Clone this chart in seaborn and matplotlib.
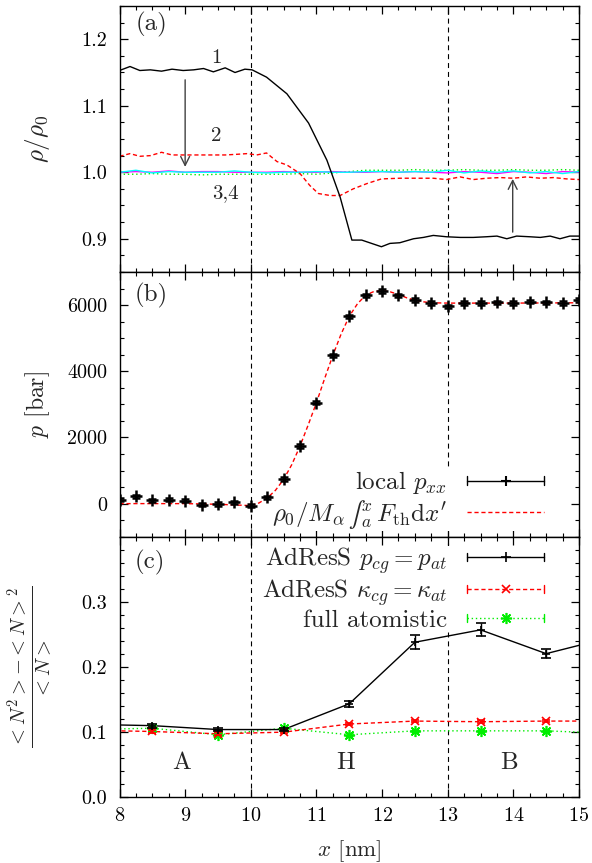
import numpy as np
import pandas as pd
import matplotlib
matplotlib.use("Agg")
import matplotlib.pyplot as plt
import seaborn as sns
from matplotlib.lines import Line2D
from matplotlib.legend_handler import HandlerBase
from matplotlib.ticker import MultipleLocator, FixedLocator

# ---------------- data ----------------
# panel (a): density profiles rho/rho0
x_c1 = [8.00, 8.16, 8.31, 8.47, 8.64, 8.80, 8.97, 9.13, 9.28, 9.43, 9.61, 9.76, 9.91, 10.02,
        10.24, 10.55, 10.88, 11.16, 11.36, 11.54, 11.69, 11.84, 11.99, 12.12, 12.27, 12.48,
        12.63, 12.78, 12.98, 13.19, 13.39, 13.59, 13.75, 13.90, 14.05, 14.25, 14.41, 14.56,
        14.71, 14.86, 15.00]
y_c1 = [1.153, 1.159, 1.153, 1.154, 1.152, 1.155, 1.153, 1.154, 1.156, 1.151, 1.157, 1.150,
        1.155, 1.154, 1.143, 1.118, 1.074, 1.018, 0.963, 0.898, 0.898, 0.893, 0.888, 0.893,
        0.894, 0.900, 0.902, 0.905, 0.903, 0.902, 0.902, 0.903, 0.904, 0.900, 0.904, 0.903,
        0.902, 0.904, 0.900, 0.904, 0.904]
x_c2 = [8.00, 8.16, 8.31, 8.47, 8.64, 8.80, 8.97, 9.13, 9.28, 9.43, 9.61, 9.79, 9.94, 10.09,
        10.24, 10.40, 10.55, 10.75, 10.90, 11.03, 11.21, 11.36, 11.56, 11.77, 11.99, 12.27,
        12.53, 12.78, 12.98, 13.19, 13.39, 13.59, 13.80, 14.00, 14.20, 14.41, 14.61, 14.81,
        15.00]
y_c2 = [1.024, 1.028, 1.024, 1.025, 1.030, 1.026, 1.026, 1.026, 1.026, 1.026, 1.026, 1.027,
        1.028, 1.026, 1.029, 1.016, 1.011, 0.998, 0.980, 0.968, 0.965, 0.965, 0.975, 0.983,
        0.990, 0.991, 0.991, 0.991, 0.989, 0.993, 0.989, 0.991, 0.992, 0.991, 0.993, 0.991,
        0.992, 0.990, 0.989]
x_c34 = [8.00, 8.25, 8.50, 8.75, 9.00, 9.25, 9.50, 9.75, 10.00, 10.25, 10.50, 10.75, 11.00,
         11.25, 11.50, 11.75, 12.00, 12.25, 12.50, 12.75, 13.00, 13.25, 13.50, 13.75, 14.00,
         14.25, 14.50, 14.75, 15.00]
y_full = [0.997, 0.997, 0.998, 0.997, 0.997, 0.996, 0.997, 0.997, 0.997, 0.997, 0.997, 0.998,
          0.997, 0.999, 1.001, 1.003, 1.003, 1.003, 1.004, 1.003, 1.003, 1.004, 1.003, 1.003,
          1.004, 1.003, 1.003, 1.004, 1.003]
y_c3 = [1.000, 1.001, 1.000, 1.002, 1.000, 1.001, 1.001, 1.000, 1.000, 1.000, 1.001, 1.000,
        1.000, 1.001, 1.000, 1.000, 1.001, 1.000, 1.001, 1.000, 0.999, 1.001, 1.000, 0.998,
        1.001, 1.000, 0.998, 1.001, 1.000]
y_c4 = [1.000, 1.003, 0.999, 1.001, 1.000, 1.000, 1.000, 1.002, 1.000, 0.999, 1.000, 1.000,
        1.001, 1.000, 1.000, 1.001, 1.001, 1.000, 1.001, 1.000, 1.003, 0.999, 1.002, 1.000,
        1.002, 0.999, 1.001, 0.998, 1.001]

# panel (b): pressure
x_p = [8.00, 8.25, 8.50, 8.75, 9.00, 9.25, 9.50, 9.75, 10.00, 10.25, 10.50, 10.75, 11.00,
       11.25, 11.50, 11.75, 12.00, 12.25, 12.50, 12.75, 13.00, 13.25, 13.50, 13.75, 14.00,
       14.25, 14.50, 14.75, 15.00]
p_local = [120, 220, 100, 120, 90, -30, -10, 40, -60, 190, 740, 1740, 3050, 4480, 5660,
           6300, 6430, 6300, 6150, 6060, 5960, 6060, 6060, 6080, 6060, 6100, 6080, 6060, 6150]
p_err = [50] * 29
x_int = [8.0, 8.5, 9.0, 9.5, 9.75, 10.0, 10.125, 10.25, 10.375, 10.5, 10.625, 10.75, 10.875,
         11.0, 11.125, 11.25, 11.375, 11.5, 11.625, 11.75, 11.875, 12.0, 12.125, 12.25,
         12.375, 12.5, 12.625, 12.75, 13.0, 14.0, 15.0]
p_int = [0, 0, 0, -20, -40, -60, 20, 170, 400, 730, 1180, 1740, 2380, 3050, 3780, 4480,
         5120, 5660, 6040, 6300, 6410, 6440, 6400, 6320, 6220, 6150, 6100, 6070, 6060, 6060,
         6070]

# panel (c): particle number fluctuations
x_n = [7.5, 8.5, 9.5, 10.5, 11.5, 12.5, 13.5, 14.5, 15.5]
n_press = [0.112, 0.110, 0.104, 0.104, 0.1435, 0.238, 0.257, 0.2205, 0.246]
n_press_err = [0.003, 0.003, 0.003, 0.002, 0.005, 0.011, 0.010, 0.007, 0.008]
n_kappa = [0.103, 0.101, 0.0975, 0.100, 0.1125, 0.117, 0.116, 0.117, 0.117]
n_kappa_err = [0.002] * 9
n_full = [0.104, 0.106, 0.096, 0.106, 0.096, 0.102, 0.102, 0.102, 0.098]
n_full_err = [0.002] * 9

boundaries = [10, 13]
region_labels = ["A", "H", "B"]
region_x = [8.95, 11.45, 13.93]
region_y = 0.053

x_ticks = [8, 9, 10, 11, 12, 13, 14, 15]
rho_ticks = [0.9, 1.0, 1.1, 1.2]
p_ticks = [0, 2000, 4000, 6000]
n_ticks = [0.0, 0.1, 0.2, 0.3]

# ---------------- style ----------------
sns.set_theme(style="ticks")
plt.rcParams.update({
    "font.family": "serif",
    "font.serif": ["cmr10", "DejaVu Serif"],
    "mathtext.fontset": "cm",
    "axes.formatter.use_mathtext": True,
    "axes.unicode_minus": False,
    "axes.linewidth": 1.0,
    "axes.edgecolor": "black",
    "xtick.direction": "in",
    "ytick.direction": "in",
    "xtick.top": True,
    "ytick.right": True,
    "xtick.major.size": 5.5,
    "ytick.major.size": 5.5,
    "xtick.minor.size": 3,
    "ytick.minor.size": 3,
    "xtick.major.width": 0.9,
    "ytick.major.width": 0.9,
    "xtick.minor.width": 0.8,
    "ytick.minor.width": 0.8,
    "xtick.color": "black",
    "ytick.color": "black",
    "xtick.labelsize": 14.5,
    "ytick.labelsize": 14.5,
    "xtick.major.pad": 7,
    "ytick.major.pad": 9,
})

W, H = 592.0, 863.0
fig = plt.figure(figsize=(W / 100, H / 100), dpi=100)


def axpos(left, top, right, bottom):
    return [left / W, 1 - bottom / H, (right - left) / W, (bottom - top) / H]


axa = fig.add_axes(axpos(119.5, 6, 579, 272))
axb = fig.add_axes(axpos(119.5, 272, 579, 536.7))
axc = fig.add_axes(axpos(119.5, 536.7, 579, 797.3))

RED = "#ff0000"
GREEN = "#00ee00"
LW = 1.0
vdash = (0, (4.5, 3.5))

for ax in (axa, axb, axc):
    ax.set_xlim(8, 15)
    ax.xaxis.set_major_locator(FixedLocator(x_ticks))
    ax.xaxis.set_minor_locator(MultipleLocator(0.25))
    for b in boundaries:
        ax.axvline(b, color="black", lw=0.8, ls=vdash, zorder=1)
    ax.tick_params(which="both", top=True, right=True)
    for s in ax.spines.values():
        s.set_zorder(10)

# ---- panel (a)
da1 = pd.DataFrame({"x": x_c1, "y": y_c1})
da2 = pd.DataFrame({"x": x_c2, "y": y_c2})
da3 = pd.DataFrame({"x": x_c34, "full": y_full, "c3": y_c3, "c4": y_c4})
sns.lineplot(data=da3, x="x", y="full", ax=axa, color=GREEN, lw=LW, ls=(0, (1, 2)),
             estimator=None, sort=False, zorder=3)
sns.lineplot(data=da3, x="x", y="c3", ax=axa, color="#ff00ff", lw=LW,
             estimator=None, sort=False, zorder=3)
sns.lineplot(data=da3, x="x", y="c4", ax=axa, color="#00ffff", lw=LW,
             estimator=None, sort=False, zorder=3)
sns.lineplot(data=da2, x="x", y="y", ax=axa, color=RED, lw=LW, ls=(0, (3, 2)),
             estimator=None, sort=False, zorder=3)
sns.lineplot(data=da1, x="x", y="y", ax=axa, color="black", lw=LW,
             estimator=None, sort=False, zorder=3)
axa.set_ylim(0.85, 1.25)
axa.yaxis.set_major_locator(FixedLocator(rho_ticks))
axa.yaxis.set_minor_locator(MultipleLocator(0.025))
axa.yaxis.set_major_formatter(matplotlib.ticker.FormatStrFormatter("%.1f"))
axa.set_xlabel("")
axa.tick_params(labelbottom=False)
axa.set_ylabel(r"$\rho/\rho_0$", fontsize=18, va="center")
axa.yaxis.set_label_coords(-0.178, 0.5)
axa.text(8.49, 1.222, "(a)", fontsize=18, ha="center", va="center")
axa.text(9.48, 1.171, "1", fontsize=15, ha="center", va="center")
axa.text(9.48, 1.054, "2", fontsize=15, ha="center", va="center")
axa.text(9.62, 0.969, "3,4", fontsize=15, ha="center", va="center")
arrow_kw = dict(arrowstyle="->", color="#404040", lw=1.0, mutation_scale=16,
                shrinkA=0, shrinkB=0)
axa.annotate("", xy=(9.0, 1.008), xytext=(9.0, 1.139), arrowprops=arrow_kw)
axa.annotate("", xy=(13.99, 0.990), xytext=(13.99, 0.910), arrowprops=arrow_kw)

# ---- panel (b)
dbi = pd.DataFrame({"x": x_int, "p": p_int})
sns.lineplot(data=dbi, x="x", y="p", ax=axb, color=RED, lw=LW, ls=(0, (3, 2)),
             estimator=None, sort=False, zorder=3)
axb.errorbar(x_p, p_local, yerr=p_err, fmt="+", color="black", ms=8, mew=1.8,
             elinewidth=1.6, capsize=3, capthick=1.6, zorder=4)
axb.set_ylim(-1000, 7000)
axb.yaxis.set_major_locator(FixedLocator(p_ticks))
axb.yaxis.set_minor_locator(MultipleLocator(500))
axb.yaxis.set_major_formatter(matplotlib.ticker.FormatStrFormatter("%d"))
axb.tick_params(labelbottom=False)
axb.set_xlabel("")
axb.set_ylabel(r"$p$ [bar]", fontsize=17, va="center")
axb.yaxis.set_label_coords(-0.178, 0.5)
axb.text(8.49, 6280, "(b)", fontsize=18, ha="center", va="center")

# ---- panel (c)
dc = pd.DataFrame({"x": x_n, "press": n_press, "kappa": n_kappa, "full": n_full})
sns.lineplot(data=dc, x="x", y="full", ax=axc, color=GREEN, lw=LW, ls=(0, (1, 2)),
             estimator=None, sort=False, zorder=3)
sns.lineplot(data=dc, x="x", y="kappa", ax=axc, color=RED, lw=LW, ls=(0, (3, 2)),
             estimator=None, sort=False, zorder=3)
sns.lineplot(data=dc, x="x", y="press", ax=axc, color="black", lw=LW,
             estimator=None, sort=False, zorder=3)
axc.errorbar(x_n, n_full, yerr=n_full_err, fmt="none", ecolor=GREEN, elinewidth=1,
             capsize=3, zorder=4)
axc.plot(x_n, n_full, ls="none", marker=(8, 2, 0), ms=8, mew=1.2, color=GREEN, zorder=4)
axc.errorbar(x_n, n_kappa, yerr=n_kappa_err, fmt="x", color=RED, ms=6, mew=1.2,
             elinewidth=1, capsize=3, zorder=4)
axc.errorbar(x_n, n_press, yerr=n_press_err, fmt="+", color="black", ms=6, mew=1.2,
             elinewidth=1, capsize=3.5, zorder=5)
axc.set_ylim(0, 0.4)
axc.yaxis.set_major_locator(FixedLocator(n_ticks))
axc.yaxis.set_minor_locator(MultipleLocator(0.02))
axc.yaxis.set_major_formatter(matplotlib.ticker.FormatStrFormatter("%.1f"))
axc.set_xlabel(r"$x$ [nm]", fontsize=16.5, va="center")
axc.xaxis.set_label_coords(0.5, -0.205)
axc.set_ylabel(r"$\frac{<N^2>-<N>^2}{<N>}$", fontsize=21, va="center")
axc.yaxis.set_label_coords(-0.195, 0.5)
axc.text(8.46, 0.361, "(c)", fontsize=18, ha="center", va="center")
for lab, xx in zip(region_labels, region_x):
    axc.text(xx, region_y, lab, fontsize=18, ha="center", va="center")


# ---------------- legends (gnuplot-style samples) ----------------
class GPHandler(HandlerBase):
    def create_artists(self, legend, orig_handle, xdescent, ydescent, width, height,
                       fontsize, trans):
        y = height / 2 - ydescent
        x0, x1 = -xdescent, width - xdescent
        arts = []
        ln = Line2D([x0, x1], [y, y])
        ln.update_from(orig_handle)
        ln.set_marker("None")
        arts.append(ln)
        cap = 3.0
        for xc in (x0, x1):
            c = Line2D([xc, xc], [y - cap, y + cap], color=orig_handle.get_color(), lw=1.0)
            arts.append(c)
        m = Line2D([(x0 + x1) / 2], [y], ls="none")
        m.update_from(orig_handle)
        m.set_linestyle("None")
        arts.append(m)
        for a in arts:
            a.set_transform(trans)
        return arts


h_local = Line2D([], [], color="black", lw=1.0, marker="+", ms=7, mew=1.5)
h_int = Line2D([], [], color=RED, lw=1.0, ls=(0, (3, 2)))
legb = axb.legend([h_local, h_int],
                  [r"local $p_{xx}$",
                   "$\\rho_0/M_\\alpha\\,\u222b_a^x\\, F_{\\mathrm{th}}\\mathrm{d}x'$"],
                  handler_map={h_local: GPHandler()},
                  loc="center right", bbox_to_anchor=(0.924, 0.139), markerfirst=False,
                  frameon=True, framealpha=1, edgecolor="none", facecolor="white",
                  fancybox=False, borderpad=0.0, borderaxespad=0, fontsize=18,
                  handlelength=3.08, handletextpad=0.8, labelspacing=0.05)
legb.set_zorder(2)

h_p = Line2D([], [], color="black", lw=1.0, marker="+", ms=7, mew=1.2)
h_k = Line2D([], [], color=RED, lw=1.0, ls=(0, (3, 2)), marker="x", ms=6, mew=1.2)
h_f = Line2D([], [], color=GREEN, lw=1.0, ls=(0, (1, 2)), marker=(8, 2, 0), ms=8, mew=1.2)
legc = axc.legend([h_p, h_k, h_f],
                  [r"AdResS $p_{cg}=p_{at}$", r"AdResS $\kappa_{cg}=\kappa_{at}$",
                   "full atomistic"],
                  handler_map={h_p: GPHandler(), h_k: GPHandler(), h_f: GPHandler()},
                  loc="center right", bbox_to_anchor=(0.9245, 0.80), markerfirst=False,
                  frameon=True, framealpha=1, edgecolor="none", facecolor="white",
                  fancybox=False, borderpad=0.0, borderaxespad=0, fontsize=18,
                  handlelength=3.08, handletextpad=0.8, labelspacing=0.05)
legc.set_zorder(2)

fig.savefig("out.png", dpi=100)
